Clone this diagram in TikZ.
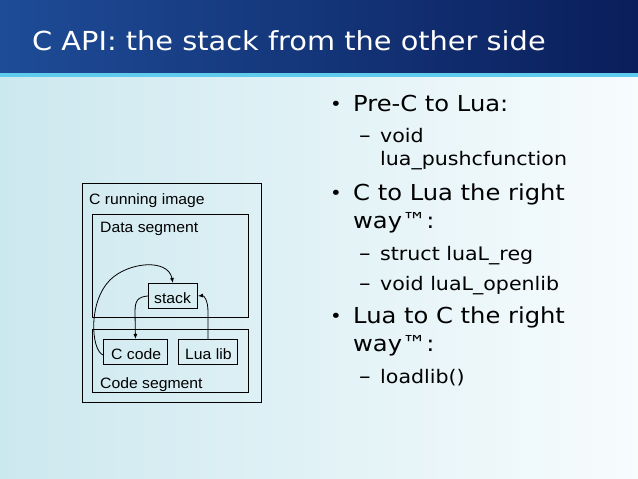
\documentclass[tikz,border=0pt]{standalone}
\usepackage{fontspec}
\setmainfont{DejaVu Sans}[FakeStretch=1.1]
\newfontfamily\diagfont{Liberation Sans}[FakeStretch=1.05]
\usetikzlibrary{arrows.meta}
\definecolor{bgleft}{HTML}{CCE8EF}
\definecolor{bgright}{HTML}{F7FCFD}
\definecolor{barleft}{HTML}{1E4C97}
\definecolor{barright}{HTML}{0A1E5B}
\definecolor{stripe}{HTML}{5FCCEE}
\begin{document}
\begin{tikzpicture}[x=1pt,y=-1pt,
  box/.style={draw=black,line width=0.9pt,anchor=north west,inner sep=0pt},
  dlabel/.style={anchor=base west,inner sep=0pt,font=\diagfont\fontsize{15}{18}\selectfont},
  lvla/.style={anchor=base west,inner sep=0pt,font=\fontsize{22}{26}\selectfont},
  lvlb/.style={anchor=base west,inner sep=0pt,font=\fontsize{18.7}{22}\selectfont},
  bul/.style={anchor=base west,inner sep=0pt,font=\fontsize{18}{22}\selectfont},
  dsh/.style={anchor=base west,inner sep=0pt,font=\fontsize{21}{24}\selectfont},
  conn/.style={draw=black,line width=0.8pt,-{Latex[length=5pt,width=4pt]}}]
\useasboundingbox (0,0) rectangle (638,479);
\shade[left color=bgleft,right color=bgright] (0,77) rectangle (638,479);
\shade[left color=barleft,right color=barright] (0,0) rectangle (638,72.5);
\fill[stripe] (0,72.5) rectangle (638,77);

\node[anchor=base west,inner sep=0pt,text=white,font=\fontsize{26.2}{30}\selectfont] (title) at (32,50.5) {C API: the stack from the other side};

% diagram
\node[box,minimum width=179pt,minimum height=219pt] (outer) at (82,183) {};
\node[dlabel] (outerlbl) at (89,204) {C running image};
\node[box,minimum width=156pt,minimum height=103pt] (data) at (92,214) {};
\node[dlabel] (datalbl) at (100,232) {Data segment};
\node[box,minimum width=49pt,minimum height=25pt] (stack) at (148,283) {};
\node[dlabel] (stacklbl) at (154,303) {stack};
\node[box,minimum width=156pt,minimum height=63pt] (code) at (92,329) {};
\node[dlabel] (codelbl) at (100,388) {Code segment};
\node[box,minimum width=64pt,minimum height=25pt] (ccode) at (103,339) {};
\node[dlabel] (ccodelbl) at (111,359) {C code};
\node[box,minimum width=59pt,minimum height=25pt] (lualib) at (178,339) {};
\node[dlabel] (lualiblbl) at (185,359) {Lua lib};

\draw[conn] ([yshift=-3pt]ccode.west) .. controls (91,350) and (88,302) .. (110,280)
  .. controls (128,262) and (168,258) .. (stack.north);
\draw[conn] (stack.west) .. controls (138,297) and (135,300) .. (135,312) -- (ccode.north);
\draw[conn] (lualib.north) -- (208,312) .. controls (208,300) and (204,295.5) .. (stack.east);

% bullets
\node[bul] (b1) at (330,110) {•};
\node[lvla] (t1) at (353,111) {Pre-C to Lua:};
\node[dsh] (d1) at (359,142) {–};
\node[lvlb] (s1a) at (380,142) {void};
\node[lvlb] (s1b) at (380,165) {lua\_pushcfunction};
\node[bul] (b2) at (330,199) {•};
\node[lvla] (t2a) at (353,200) {C to Lua the right};
\node[lvla] (t2b) at (353,228) {way™:};
\node[dsh] (d2) at (359,260) {–};
\node[lvlb] (s2) at (380,260) {struct luaL\_reg};
\node[dsh] (d3) at (359,290) {–};
\node[lvlb] (s3) at (380,290) {void luaL\_openlib};
\node[bul] (b3) at (330,322) {•};
\node[lvla] (t3a) at (353,323) {Lua to C the right};
\node[lvla] (t3b) at (353,351) {way™:};
\node[dsh] (d4) at (359,383) {–};
\node[lvlb] (s4) at (380,383) {loadlib()};
\end{tikzpicture}
\end{document}
